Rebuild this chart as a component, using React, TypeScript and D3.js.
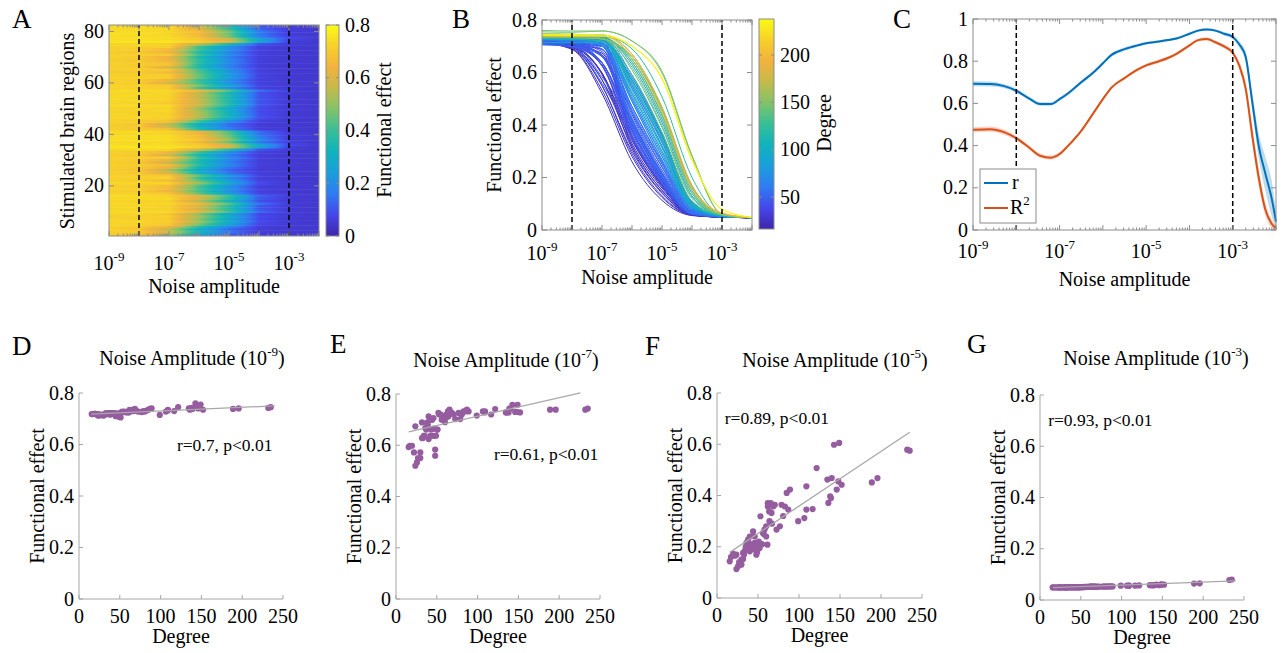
import * as React from "react";
import * as d3 from "d3";

const FONT = "'Liberation Serif', 'Times New Roman', serif";

// noise amplitudes (one sample per decade)
const NOISE = [1e-9, 1e-8, 1e-7, 1e-6, 1e-5, 1e-4, 1e-3, 1e-2];

// node degree of the 82 stimulated regions, in row order of panel A
const DEGREE = [
  23.7, 17, 29.8, 34, 56, 64, 58, 99, 72.6, 85,
  70.5, 62, 109, 80.7, 65.6, 138, 60, 42, 50, 35.9,
  67, 46, 52, 37.9, 15.5, 25.7, 31.8, 37, 48, 40,
  44, 22, 47, 82.8, 142.7, 232, 188.8, 121.5, 139.9, 152,
  89, 23.7, 29.8, 27, 39, 60, 66.5, 53, 106.5, 76.7,
  86.9, 78.7, 62, 109, 68.5, 63.6, 146, 61.5, 44, 48,
  35, 57, 40, 51, 46, 19.6, 31.8, 37.9, 45, 33,
  41, 49, 43, 55, 116.6, 149, 235, 195.7, 148, 134.6,
  139, 135.8,
];

// functional effect of each region at every noise amplitude
const FE_9 = [
  0.712, 0.718, 0.715, 0.72, 0.728, 0.73, 0.725, 0.715, 0.728, 0.735,
  0.73, 0.732, 0.732, 0.728, 0.735, 0.742, 0.725, 0.718, 0.722, 0.72,
  0.735, 0.716, 0.725, 0.72, 0.718, 0.714, 0.716, 0.722, 0.712, 0.72,
  0.718, 0.716, 0.715, 0.732, 0.76, 0.742, 0.738, 0.745, 0.742, 0.735,
  0.74, 0.718, 0.712, 0.716, 0.722, 0.726, 0.73, 0.728, 0.728, 0.726,
  0.738, 0.73, 0.735, 0.735, 0.738, 0.732, 0.74, 0.725, 0.722, 0.718,
  0.72, 0.726, 0.722, 0.705, 0.72, 0.72, 0.718, 0.716, 0.71, 0.722,
  0.72, 0.708, 0.718, 0.726, 0.73, 0.755, 0.745, 0.74, 0.748, 0.74,
  0.738, 0.735,
];
const FE_8 = [
  0.688, 0.7, 0.692, 0.705, 0.725, 0.727, 0.722, 0.713, 0.725, 0.733,
  0.728, 0.73, 0.73, 0.726, 0.733, 0.74, 0.72, 0.71, 0.715, 0.712,
  0.732, 0.71, 0.718, 0.713, 0.698, 0.69, 0.7, 0.71, 0.7, 0.708,
  0.71, 0.7, 0.708, 0.73, 0.758, 0.741, 0.737, 0.743, 0.74, 0.733,
  0.738, 0.7, 0.695, 0.696, 0.712, 0.724, 0.728, 0.726, 0.726, 0.724,
  0.736, 0.728, 0.732, 0.733, 0.736, 0.73, 0.738, 0.718, 0.716, 0.71,
  0.71, 0.722, 0.715, 0.7, 0.712, 0.705, 0.705, 0.706, 0.7, 0.706,
  0.71, 0.698, 0.71, 0.718, 0.728, 0.753, 0.744, 0.739, 0.746, 0.738,
  0.736, 0.733,
];
const FE_7 = [
  0.52, 0.598, 0.55, 0.637, 0.7, 0.712, 0.71, 0.716, 0.702, 0.732,
  0.72, 0.72, 0.732, 0.72, 0.739, 0.728, 0.69, 0.637, 0.661, 0.667,
  0.726, 0.665, 0.726, 0.687, 0.593, 0.533, 0.628, 0.661, 0.559, 0.624,
  0.7, 0.572, 0.637, 0.732, 0.758, 0.739, 0.739, 0.741, 0.743, 0.728,
  0.732, 0.674, 0.572, 0.55, 0.68, 0.71, 0.726, 0.72, 0.732, 0.726,
  0.739, 0.702, 0.72, 0.728, 0.726, 0.732, 0.73, 0.71, 0.7, 0.583,
  0.637, 0.71, 0.713, 0.661, 0.706, 0.598, 0.689, 0.667, 0.637, 0.628,
  0.7, 0.637, 0.661, 0.72, 0.72, 0.758, 0.743, 0.739, 0.73, 0.728,
  0.743, 0.728,
];
const FE_6 = [
  0.26, 0.33, 0.29, 0.37, 0.47, 0.52, 0.49, 0.52, 0.49, 0.63,
  0.58, 0.59, 0.65, 0.54, 0.59, 0.62, 0.45, 0.41, 0.42, 0.42,
  0.51, 0.45, 0.39, 0.44, 0.31, 0.28, 0.32, 0.38, 0.35, 0.36,
  0.39, 0.34, 0.4, 0.57, 0.72, 0.7, 0.66, 0.69, 0.67, 0.65,
  0.64, 0.35, 0.32, 0.3, 0.4, 0.5, 0.55, 0.54, 0.53, 0.5,
  0.56, 0.58, 0.57, 0.56, 0.57, 0.55, 0.64, 0.41, 0.47, 0.41,
  0.4, 0.46, 0.45, 0.43, 0.42, 0.35, 0.36, 0.38, 0.38, 0.35,
  0.4, 0.36, 0.41, 0.41, 0.56, 0.72, 0.7, 0.67, 0.66, 0.66,
  0.61, 0.59,
];
const FE_5 = [
  0.113, 0.16, 0.13, 0.185, 0.254, 0.3, 0.267, 0.3, 0.267, 0.41,
  0.364, 0.37, 0.436, 0.32, 0.37, 0.397, 0.24, 0.208, 0.215, 0.215,
  0.29, 0.24, 0.195, 0.228, 0.143, 0.124, 0.152, 0.19, 0.169, 0.182,
  0.195, 0.165, 0.2, 0.357, 0.598, 0.579, 0.451, 0.507, 0.468, 0.442,
  0.423, 0.169, 0.15, 0.14, 0.2, 0.28, 0.332, 0.319, 0.312, 0.28,
  0.345, 0.364, 0.357, 0.345, 0.357, 0.338, 0.423, 0.208, 0.26, 0.208,
  0.2, 0.25, 0.24, 0.22, 0.215, 0.173, 0.176, 0.189, 0.19, 0.17,
  0.2, 0.18, 0.21, 0.21, 0.347, 0.605, 0.575, 0.468, 0.455, 0.462,
  0.39, 0.371,
];
const FE_4 = [
  0.055, 0.059, 0.057, 0.061, 0.075, 0.088, 0.08, 0.088, 0.08, 0.13,
  0.105, 0.108, 0.15, 0.093, 0.107, 0.125, 0.07, 0.065, 0.066, 0.066,
  0.085, 0.07, 0.063, 0.068, 0.058, 0.056, 0.058, 0.062, 0.06, 0.061,
  0.063, 0.059, 0.064, 0.103, 0.28, 0.27, 0.16, 0.2, 0.17, 0.15,
  0.14, 0.06, 0.058, 0.057, 0.064, 0.083, 0.095, 0.092, 0.09, 0.083,
  0.1, 0.105, 0.103, 0.1, 0.103, 0.097, 0.14, 0.065, 0.076, 0.065,
  0.064, 0.073, 0.07, 0.067, 0.066, 0.06, 0.06, 0.062, 0.062, 0.06,
  0.064, 0.061, 0.065, 0.065, 0.1, 0.285, 0.265, 0.17, 0.16, 0.165,
  0.12, 0.11,
];
const FE_3 = [
  0.049, 0.049, 0.049, 0.05, 0.051, 0.052, 0.051, 0.056, 0.052, 0.053,
  0.052, 0.052, 0.056, 0.052, 0.052, 0.058, 0.051, 0.05, 0.05, 0.05,
  0.052, 0.05, 0.05, 0.05, 0.049, 0.049, 0.049, 0.05, 0.05, 0.05,
  0.05, 0.049, 0.05, 0.053, 0.06, 0.078, 0.064, 0.057, 0.058, 0.06,
  0.053, 0.049, 0.049, 0.049, 0.05, 0.051, 0.052, 0.051, 0.056, 0.052,
  0.053, 0.053, 0.052, 0.056, 0.052, 0.052, 0.058, 0.051, 0.05, 0.05,
  0.05, 0.051, 0.05, 0.05, 0.05, 0.049, 0.049, 0.05, 0.05, 0.049,
  0.05, 0.05, 0.05, 0.05, 0.056, 0.061, 0.08, 0.065, 0.06, 0.058,
  0.058, 0.058,
];
const FE_2 = [
  0.047, 0.047, 0.047, 0.047, 0.047, 0.047, 0.047, 0.047, 0.047, 0.047,
  0.047, 0.047, 0.047, 0.047, 0.047, 0.047, 0.047, 0.047, 0.047, 0.047,
  0.047, 0.047, 0.047, 0.047, 0.047, 0.047, 0.047, 0.047, 0.047, 0.047,
  0.047, 0.047, 0.047, 0.047, 0.047, 0.048, 0.047, 0.047, 0.047, 0.047,
  0.047, 0.047, 0.047, 0.047, 0.047, 0.047, 0.047, 0.047, 0.047, 0.047,
  0.047, 0.047, 0.047, 0.047, 0.047, 0.047, 0.047, 0.047, 0.047, 0.047,
  0.047, 0.047, 0.047, 0.047, 0.047, 0.047, 0.047, 0.047, 0.047, 0.047,
  0.047, 0.047, 0.047, 0.047, 0.047, 0.047, 0.048, 0.047, 0.047, 0.047,
  0.047, 0.047,
];
const FE_BY_NOISE = [FE_9, FE_8, FE_7, FE_6, FE_5, FE_4, FE_3, FE_2];

// panel C: correlation between degree and functional effect (exponent of noise)
const C_NOISE_EXP = [
  -9, -8.6, -8.3, -8, -7.7, -7.45, -7.2, -7, -6.8, -6.5, -6.2, -6, -5.8, -5.5, -5.2, -5,
  -4.7, -4.5, -4.3, -4, -3.8, -3.6, -3.4, -3.2, -3, -2.85, -2.7, -2.55, -2.4, -2.25, -2.1, -2,
];
const C_R = [
  0.693, 0.692, 0.683, 0.66, 0.623, 0.597, 0.597, 0.62, 0.648, 0.7, 0.75, 0.79, 0.83, 0.857, 0.875, 0.885,
  0.893, 0.9, 0.908, 0.93, 0.945, 0.95, 0.945, 0.93, 0.915, 0.88, 0.82, 0.61, 0.4, 0.27, 0.15, 0.04,
];
const C_R_SD = [
  0.012, 0.012, 0.01, 0.01, 0.008, 0.008, 0.008, 0.008, 0.008, 0.008, 0.008, 0.008, 0.008, 0.008, 0.006, 0.006,
  0.006, 0.006, 0.006, 0.006, 0.006, 0.006, 0.006, 0.008, 0.01, 0.015, 0.025, 0.04, 0.06, 0.08, 0.085, 0.05,
];
const C_R2 = [
  0.475, 0.478, 0.465, 0.435, 0.39, 0.352, 0.343, 0.36, 0.4, 0.47, 0.56, 0.62, 0.675, 0.72, 0.76, 0.78,
  0.8, 0.815, 0.835, 0.875, 0.9, 0.905, 0.89, 0.87, 0.84, 0.78, 0.67, 0.45, 0.25, 0.1, 0.03, 0.008,
];
const C_R2_SD = [
  0.012, 0.012, 0.012, 0.01, 0.01, 0.01, 0.01, 0.01, 0.008, 0.008, 0.008, 0.008, 0.008, 0.008, 0.008, 0.008,
  0.008, 0.008, 0.008, 0.008, 0.008, 0.008, 0.008, 0.01, 0.012, 0.02, 0.03, 0.04, 0.04, 0.03, 0.02, 0.01,
];

// least-squares lines of panels D-G: [degree0, fe0, degree1, fe1]
const FIT_9 = [15, 0.718, 240, 0.75];
const FIT_7 = [15.5, 0.652, 226, 0.804];
const FIT_5 = [15.5, 0.178, 235, 0.647];
const FIT_3 = [16, 0.048, 240, 0.075];

// tick labels
const FE_TICKS = [0, 0.2, 0.4, 0.6, 0.8];
const C_TICKS = [0, 0.2, 0.4, 0.6, 0.8, 1];
const REGION_TICKS = [20, 40, 60, 80];
const DEGREE_CB_TICKS = [50, 100, 150, 200];
const DEGREE_TICKS = [0, 50, 100, 150, 200, 250];
const NOISE_LABEL_EXP = [-9, -7, -5, -3];

const PARULA_T = [0, 0.1, 0.2, 0.3, 0.4, 0.5, 0.6, 0.7, 0.8, 0.9, 1];
const PARULA_C = ["#3e26a8", "#4546ea", "#2e7cf2", "#1a9edb", "#0fb3bd", "#35bf97", "#82c36a", "#c4ba4a", "#f2b23e", "#f7d02a", "#f9fb15"];
const parula = d3.scaleLinear<string>().domain(PARULA_T).range(PARULA_C).interpolate(d3.interpolateRgb).clamp(true);

const AX = "#8c8c8c";

function powText(sel, exp, size = 20) {
  sel.append("tspan").text("10");
  sel.append("tspan").attr("dy", -9).attr("font-size", size * 0.65).text(exp);
}

function logFrame(svg, x, y, yTicks, labelBase, titleBase) {
  const [x0, x1] = x.range();
  const [yb, yt] = y.range();
  const g = svg.append("g").attr("stroke", AX).attr("fill", "none");
  const tick = (v, len) => {
    g.append("line").attr("x1", x(v)).attr("x2", x(v)).attr("y1", yb).attr("y2", yb - len);
    g.append("line").attr("x1", x(v)).attr("x2", x(v)).attr("y1", yt).attr("y2", yt + len);
  };
  d3.range(-9, -1).forEach((e) => {
    tick(Math.pow(10, e), 5);
    if (e < -2) d3.range(2, 10).forEach((m) => tick(m * Math.pow(10, e), 2.5));
  });
  yTicks.forEach((v) => {
    g.append("line").attr("x1", x0).attr("x2", x0 + 5).attr("y1", y(v)).attr("y2", y(v));
    g.append("line").attr("x1", x1).attr("x2", x1 - 5).attr("y1", y(v)).attr("y2", y(v));
  });
  g.append("rect").attr("x", x0).attr("y", yt).attr("width", x1 - x0).attr("height", yb - yt);

  NOISE_LABEL_EXP.forEach((e) => {
    const t = svg.append("text").attr("x", x(Math.pow(10, e))).attr("y", labelBase)
      .attr("text-anchor", "middle").attr("font-size", 20);
    powText(t, `-${-e}`);
  });
  yTicks.forEach((v) => {
    svg.append("text").attr("x", x0 - 5).attr("y", y(v)).attr("dy", "0.33em")
      .attr("text-anchor", "end").attr("font-size", 20).text(String(v));
  });
  svg.append("text").attr("x", (x0 + x1) / 2).attr("y", titleBase)
    .attr("text-anchor", "middle").attr("font-size", 20).text("Noise amplitude");
}

function dashed(svg, x, y) {
  [1e-8, 1e-3].forEach((v) => {
    svg.append("line").attr("x1", x(v)).attr("x2", x(v))
      .attr("y1", y.range()[0]).attr("y2", y.range()[1])
      .attr("stroke", "#000").attr("stroke-width", 1.5).attr("stroke-dasharray", "5,3");
  });
}

function vLabel(svg, x, y, text) {
  svg.append("text").attr("transform", `translate(${x},${y}) rotate(-90)`)
    .attr("text-anchor", "middle").attr("font-size", 20).text(text);
}

function letter(svg, x, y, t) {
  svg.append("text").attr("x", x).attr("y", y).attr("font-size", 27).text(t);
}

function colorbar(svg, defs, id, x0, x1, scale, ticks) {
  const [yb, yt] = scale.range();
  const grad = defs.append("linearGradient").attr("id", id)
    .attr("x1", 0).attr("y1", 1).attr("x2", 0).attr("y2", 0);
  d3.range(0, 1.0001, 0.05).forEach((t) => {
    grad.append("stop").attr("offset", t).attr("stop-color", parula(t));
  });
  svg.append("rect").attr("x", x0).attr("y", yt).attr("width", x1 - x0).attr("height", yb - yt)
    .attr("fill", `url(#${id})`).attr("stroke", AX);
  ticks.forEach((v) => {
    svg.append("line").attr("x1", x1).attr("x2", x1 - 3).attr("y1", scale(v)).attr("y2", scale(v)).attr("stroke", AX);
    svg.append("line").attr("x1", x0).attr("x2", x0 + 3).attr("y1", scale(v)).attr("y2", scale(v)).attr("stroke", AX);
    svg.append("text").attr("x", x1 + 6).attr("y", scale(v)).attr("dy", "0.33em")
      .attr("font-size", 20).text(String(v));
  });
}

function drawHeatmap(svg, defs) {
  const x = d3.scaleLog().domain([1e-9, 1e-2]).range([109, 319]);
  const y = d3.scaleLinear().domain([0.5, 82.5]).range([236, 25]);
  const off = (n) => (x(n) - 109) / 210;
  const g = svg.append("g");

  DEGREE.forEach((_, i) => {
    const vals = FE_BY_NOISE.map((col) => col[i]);
    const grad = defs.append("linearGradient").attr("id", `hm${i}`)
      .attr("x1", 0).attr("x2", 1).attr("y1", 0).attr("y2", 0);
    NOISE.forEach((n, j) => {
      if (j > 0) {
        [0.25, 0.5, 0.75].forEach((f) => {
          const o = off(NOISE[j - 1]) + f * (off(n) - off(NOISE[j - 1]));
          const v = vals[j - 1] + f * (vals[j] - vals[j - 1]);
          grad.append("stop").attr("offset", o).attr("stop-color", parula(v / 0.8));
        });
      }
      grad.append("stop").attr("offset", off(n)).attr("stop-color", parula(vals[j] / 0.8));
    });
    const top = Math.max(25, y(i + 1.5) - 0.5);
    g.append("rect").attr("x", 109).attr("width", 210)
      .attr("y", top).attr("height", y(i + 0.5) - top)
      .attr("fill", `url(#hm${i})`);
  });

  dashed(svg, x, y);
  logFrame(svg, x, y, REGION_TICKS, 270, 293);
  vLabel(svg, 74, 131, "Stimulated brain regions");

  const cb = d3.scaleLinear().domain([0, 0.8]).range([236, 25]);
  colorbar(svg, defs, "cbA", 326, 339, cb, FE_TICKS);
  vLabel(svg, 391, 130, "Functional effect");
  letter(svg, 12, 28, "A");
}

function drawCurves(svg, defs) {
  const x = d3.scaleLog().domain([1e-9, 1e-2]).range([542, 752]);
  const y = d3.scaleLinear().domain([0, 0.8]).range([230, 20]);
  const degScale = d3.scaleLinear().domain([16.3, 238]).range([0, 1]);
  const line = d3.line<number>().x((_, j) => x(NOISE[j])).y((v) => y(v)).curve(d3.curveMonotoneX);

  const order = d3.range(DEGREE.length).sort((a, b) => DEGREE[a] - DEGREE[b]);
  const g = svg.append("g").attr("fill", "none");
  order.forEach((i) => {
    g.append("path").attr("d", line(FE_BY_NOISE.map((col) => col[i])))
      .attr("stroke", parula(degScale(DEGREE[i]))).attr("stroke-width", 1);
  });

  dashed(svg, x, y);
  logFrame(svg, x, y, FE_TICKS, 260, 284);
  vLabel(svg, 501, 125, "Functional effect");

  const cb = d3.scaleLinear().domain([16.3, 238]).range([229, 19]);
  colorbar(svg, defs, "cbB", 759, 774, cb, DEGREE_CB_TICKS);
  vLabel(svg, 831, 123, "Degree");
  letter(svg, 452, 28, "B");
}

function drawCorrelation(svg) {
  const x = d3.scaleLog().domain([1e-9, 1e-2]).range([973, 1276]);
  const y = d3.scaleLinear().domain([0, 1]).range([230, 19]);
  const px = (j) => x(Math.pow(10, C_NOISE_EXP[j]));

  const series = [
    { v: C_R2, sd: C_R2_SD, color: "#D95319" },
    { v: C_R, sd: C_R_SD, color: "#0072BD" },
  ];
  series.forEach((s) => {
    const area = d3.area<number>().x((_, j) => px(j))
      .y0((d, j) => y(Math.max(0, d - s.sd[j]))).y1((d, j) => y(Math.min(1, d + s.sd[j])))
      .curve(d3.curveMonotoneX);
    svg.append("path").attr("d", area(s.v)).attr("fill", s.color).attr("opacity", 0.25);
  });
  series.forEach((s) => {
    const line = d3.line<number>().x((_, j) => px(j)).y((d) => y(d)).curve(d3.curveMonotoneX);
    svg.append("path").attr("d", line(s.v)).attr("fill", "none").attr("stroke", s.color).attr("stroke-width", 2);
  });

  dashed(svg, x, y);
  logFrame(svg, x, y, C_TICKS, 258, 286);

  // legend
  svg.append("rect").attr("x", 980).attr("y", 169).attr("width", 56).attr("height", 54)
    .attr("fill", "#fff").attr("stroke", AX);
  svg.append("line").attr("x1", 984).attr("x2", 1008).attr("y1", 183).attr("y2", 183)
    .attr("stroke", "#0072BD").attr("stroke-width", 2);
  svg.append("text").attr("x", 1012).attr("y", 189).attr("font-size", 20).text("r");
  svg.append("line").attr("x1", 984).attr("x2", 1008).attr("y1", 208).attr("y2", 208)
    .attr("stroke", "#D95319").attr("stroke-width", 2);
  const t = svg.append("text").attr("x", 1010).attr("y", 214).attr("font-size", 20);
  t.append("tspan").text("R");
  t.append("tspan").attr("dy", -9).attr("font-size", 13).text("2");

  letter(svg, 893, 28, "C");
}

const SCATTER_PANELS = [
  { id: "D", exp: "-9", values: FE_9, fit: FIT_9, note: "r=0.7, p<0.01", noteAt: [120, 0.573],
    x0: 79, x1: 283, y0: 599, y1: 393, titleX: 192, titleY: 365, lx: 12, ly: 355 },
  { id: "E", exp: "-7", values: FE_7, fit: FIT_7, note: "r=0.61, p<0.01", noteAt: [120, 0.543],
    x0: 396, x1: 600, y0: 599, y1: 394, titleX: 506, titleY: 367, lx: 330, ly: 353 },
  { id: "F", exp: "-5", values: FE_5, fit: FIT_5, note: "r=0.89, p<0.01", noteAt: [9.5, 0.679],
    x0: 717, x1: 922, y0: 598, y1: 393, titleX: 835, titleY: 367, lx: 645, ly: 355 },
  { id: "G", exp: "-3", values: FE_3, fit: FIT_3, note: "r=0.93, p<0.01", noteAt: [10, 0.679],
    x0: 1040, x1: 1244, y0: 600, y1: 395, titleX: 1156, titleY: 365, lx: 967, ly: 353 },
];

function drawScatter(svg, p) {
  const x = d3.scaleLinear().domain([0, 250]).range([p.x0, p.x1]);
  const y = d3.scaleLinear().domain([0, 0.8]).range([p.y0, p.y1]);
  const g = svg.append("g");

  const ax = g.append("g").attr("stroke", "#a6a6a6").attr("fill", "none");
  ax.append("line").attr("x1", p.x0).attr("x2", p.x1).attr("y1", p.y0).attr("y2", p.y0);
  ax.append("line").attr("x1", p.x0).attr("x2", p.x0).attr("y1", p.y0).attr("y2", p.y1);
  DEGREE_TICKS.forEach((v) => {
    ax.append("line").attr("x1", x(v)).attr("x2", x(v)).attr("y1", p.y0).attr("y2", p.y0 - 4);
    g.append("text").attr("x", x(v)).attr("y", p.y0 + 24).attr("text-anchor", "middle")
      .attr("font-size", 20).text(String(v));
  });
  FE_TICKS.forEach((v) => {
    ax.append("line").attr("x1", p.x0).attr("x2", p.x0 + 4).attr("y1", y(v)).attr("y2", y(v));
    g.append("text").attr("x", p.x0 - 5).attr("y", y(v)).attr("dy", "0.33em").attr("text-anchor", "end")
      .attr("font-size", 20).text(String(v));
  });

  g.selectAll(".dot").data(DEGREE).enter().append("circle")
    .attr("cx", (d) => x(d)).attr("cy", (_, i) => y(p.values[i])).attr("r", 3.1)
    .attr("fill", "#955c9f");

  g.append("line").attr("x1", x(p.fit[0])).attr("y1", y(p.fit[1]))
    .attr("x2", x(p.fit[2])).attr("y2", y(p.fit[3]))
    .attr("stroke", "#a8a8a8").attr("stroke-width", 1.3);

  g.append("text").attr("x", x(p.noteAt[0])).attr("y", y(p.noteAt[1])).attr("font-size", 17.5).text(p.note);

  const title = g.append("text").attr("x", p.titleX).attr("y", p.titleY).attr("text-anchor", "middle")
    .attr("font-size", 20);
  title.append("tspan").text("Noise Amplitude (10");
  title.append("tspan").attr("dy", -9).attr("font-size", 13).text(p.exp);
  title.append("tspan").attr("dy", 9).text(")");

  g.append("text").attr("x", (p.x0 + p.x1) / 2).attr("y", p.y0 + 44).attr("text-anchor", "middle")
    .attr("font-size", 20).text("Degree");
  vLabel(g, p.x0 - 35, (p.y0 + p.y1) / 2, "Functional effect");
  letter(g, p.lx, p.ly, p.id);
}

function drawFigure(node) {
  const svg = d3.select(node);
  svg.selectAll("*").remove();
  svg.style("font-family", FONT);
  svg.append("rect").attr("width", 1285).attr("height", 653).attr("fill", "#fff");
  const defs = svg.append("defs");

  drawHeatmap(svg, defs);
  drawCurves(svg, defs);
  drawCorrelation(svg);
  SCATTER_PANELS.forEach((p) => drawScatter(svg, p));
}

const App = () => {
  const svgRef = React.useRef(null);

  React.useEffect(() => {
    drawFigure(svgRef.current);
  }, [svgRef]);

  return (
    <div style={{ position: "absolute", left: 0, top: 0 }}>
      <svg ref={svgRef} width={1285} height={653} />
    </div>
  );
};

export default App;
